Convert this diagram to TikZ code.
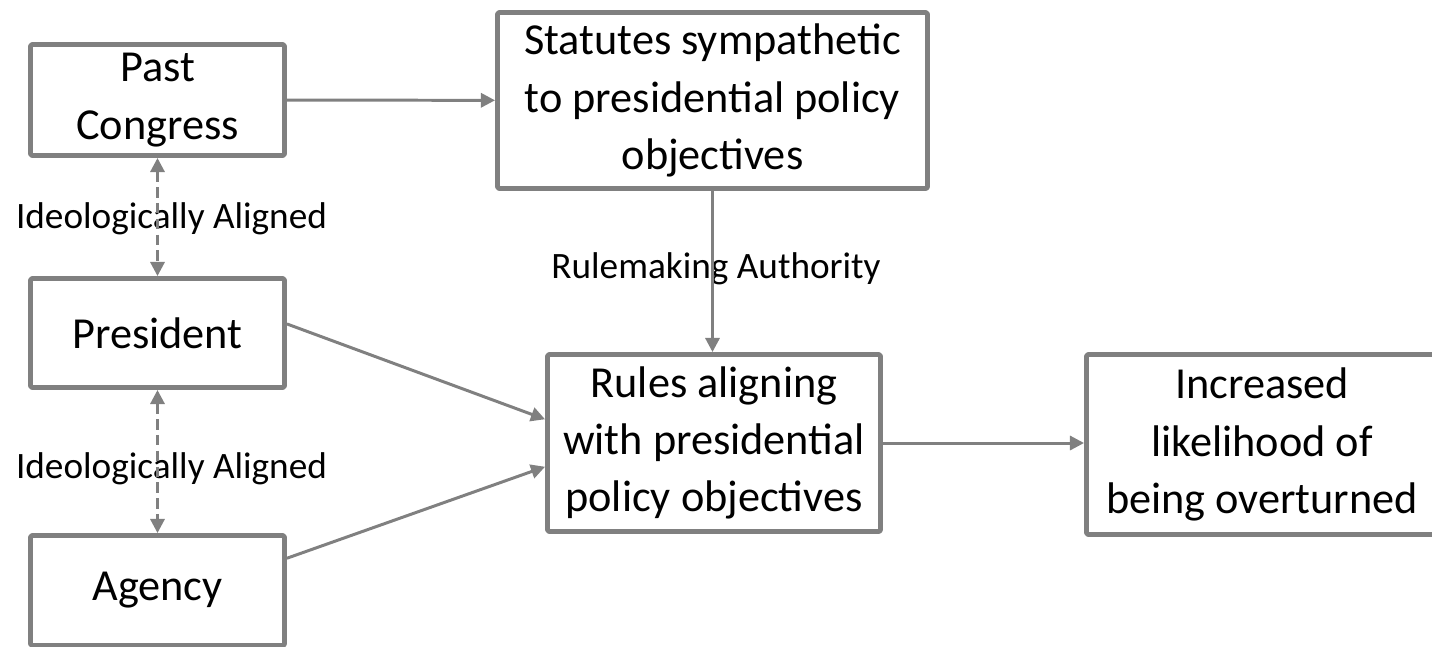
\documentclass[tikz,border=0pt]{standalone}
\usepackage{fontspec}
\setmainfont{Carlito}
\usetikzlibrary{arrows.meta}
\definecolor{boxgray}{RGB}{128,128,128}

\begin{document}
\begin{tikzpicture}[>={Triangle[length=4pt,width=4pt]},line join=round,
  box/.style={draw=boxgray,line width=1.4pt,rounded corners=0.6pt,align=center,inner sep=0pt,font=\fontsize{12.6}{16.3}\selectfont},
  lbl/.style={font=\fontsize{10.6}{12}\selectfont,inner sep=0pt,anchor=base},
  conn/.style={draw=boxgray,line width=0.85pt}]
\useasboundingbox (0,0) rectangle (14.32,-6.46);
\node[box,minimum width=2.54cm,minimum height=1.11cm] (congress) at (1.575,-1.00) {Past\\Congress};
\node[box,minimum width=2.54cm,minimum height=1.09cm] (president) at (1.575,-3.33) {President};
\node[box,minimum width=2.54cm,minimum height=1.10cm] (agency) at (1.575,-5.905) {Agency};
\node[box,minimum width=4.30cm,minimum height=1.76cm] (statutes) at (7.125,-1.005) {Statutes sympathetic\\to presidential policy\\objectives};
\node[box,minimum width=3.33cm,minimum height=1.77cm] (rules) at (7.14,-4.43) {Rules aligning\\with presidential\\policy objectives};
\node[box,minimum width=3.51cm,minimum height=1.80cm] (overturn) at (12.62,-4.445) {Increased\\likelihood of\\being overturned};
\node[lbl] (aligned1) at (1.715,-2.28) {Ideologically Aligned};
\node[lbl] (aligned2) at (1.715,-4.78) {Ideologically Aligned};
\node[lbl] (authority) at (7.16,-2.78) {Rulemaking Authority};
\draw[conn,->] (congress) -- (statutes);
\draw[conn,->] (statutes.south) -- (statutes.south |- rules.north);
\draw[conn,->] (president.4) -- (rules.172);
\draw[conn,->] (agency.14) -- (rules.188);
\draw[conn,->] (rules.east) -- (rules.east -| overturn.west);
\draw[conn,<->,dash pattern=on 3pt off 1.5pt] (congress) -- (president);
\draw[conn,<->,dash pattern=on 3pt off 1.5pt] (president) -- (agency);
\end{tikzpicture}
\end{document}
